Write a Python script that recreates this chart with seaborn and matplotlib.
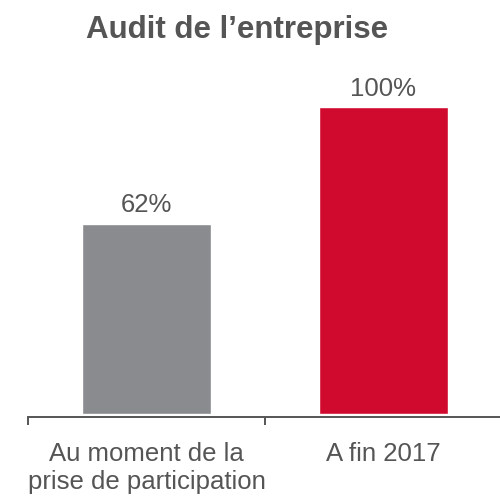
import matplotlib
matplotlib.use("Agg")
import matplotlib.pyplot as plt
import seaborn as sns
import pandas as pd

categories = ["Au moment de la\nprise de participation", "A fin 2017"]
values = [62, 100]
value_labels = ["62%", "100%"]
bar_colors = ["#8a8b8f", "#d00a2e"]

sns.set_theme(style="white")
plt.rcParams["font.family"] = ["Liberation Sans", "DejaVu Sans"]

text_color = "#555555"

df = pd.DataFrame({"categorie": categories, "valeur": values})

fig = plt.figure(figsize=(5.0, 4.98), dpi=100)
ax = fig.add_axes([0.056, 0.1687, 0.948, 0.678])

sns.barplot(data=df, x="categorie", y="valeur", hue="categorie",
            palette=bar_colors, width=0.544, legend=False, ax=ax,
            saturation=1)

ax.set_xlim(-0.5, 1.5)
ax.set_ylim(0, 110.0)

for i, (v, lab) in enumerate(zip(values, value_labels)):
    ax.annotate(lab, (i, v), xytext=(0, 4.5), textcoords="offset points",
                ha="center", va="bottom", fontsize=18.5, color=text_color)

for side in ["top", "right", "left"]:
    ax.spines[side].set_visible(False)
ax.spines["bottom"].set_color(text_color)
ax.spines["bottom"].set_linewidth(1.4)
ax.spines["bottom"].set_position(("outward", 2))

ax.set_yticks([])
ax.set_xticks(range(len(categories)))
ax.set_xticklabels(categories, fontsize=18.5, color=text_color, linespacing=1.22)
ax.tick_params(axis="x", which="major", length=0, pad=18)
ax.set_xticks([-0.5, 0.5, 1.5], minor=True)
ax.tick_params(axis="x", which="minor", length=6, width=1.4,
               color=text_color, direction="out", bottom=True)
ax.set_xlabel("")
ax.set_ylabel("")

fig.text(0.475, 0.94, "Audit de l\u2019entreprise", ha="center", va="center",
         fontsize=22.5, fontweight="bold", color=text_color)

fig.savefig("out.png", dpi=100)
